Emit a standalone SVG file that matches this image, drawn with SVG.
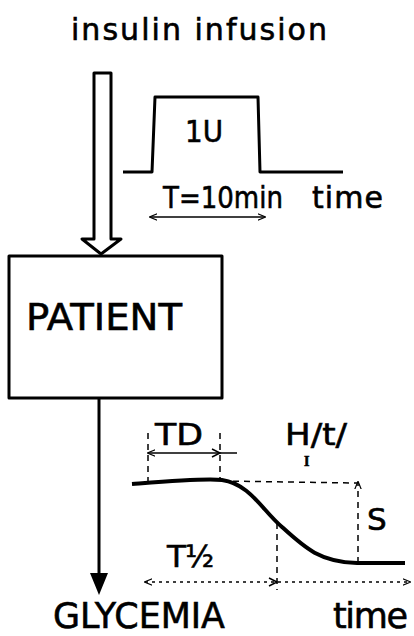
<svg xmlns="http://www.w3.org/2000/svg" width="414" height="636" viewBox="0 0 414 636">
<style>
text{font-family:"DejaVu Sans","Liberation Sans",Arial,sans-serif;fill:#000;stroke:#000;stroke-width:0.6}
.thick{fill:none;stroke:#000;stroke-width:3;stroke-linejoin:round}
.thin{fill:none;stroke:#000;stroke-width:1.5}
.dash{fill:none;stroke:#000;stroke-width:1.5;stroke-dasharray:6 5}
.dot{fill:none;stroke:#000;stroke-width:1.5;stroke-dasharray:3 4}
</style>
<defs>
<marker id="ah" viewBox="0 0 10 10" refX="9" refY="5" markerWidth="8" markerHeight="8" orient="auto-start-reverse" markerUnits="userSpaceOnUse">
<path d="M0,1 L10,5 L0,9" fill="none" stroke="#000" stroke-width="1.5"/>
</marker>
</defs>
<rect width="414" height="636" fill="#fff"/>
<g id="title"><text x="71" y="40" font-size="30" textLength="256" lengthAdjust="spacing">insulin infusion</text></g>
<g id="pulse">
<path class="thick" d="M123,172 H152 L155,97 H258 L260,172 H343"/>
<text x="185" y="142" font-size="30" textLength="38" lengthAdjust="spacingAndGlyphs">1U</text>
<text x="163" y="208" font-size="31" textLength="120" lengthAdjust="spacingAndGlyphs">T=10min</text>
<text x="312" y="208" font-size="30" textLength="71" lengthAdjust="spacing">time</text>
<line class="thin" x1="150" y1="217" x2="265" y2="217" marker-start="url(#ah)" marker-end="url(#ah)"/>
</g>
<g id="patient">
<rect class="thick" x="9" y="256" width="213" height="142"/>
<text x="26" y="330" font-size="37" textLength="156" lengthAdjust="spacingAndGlyphs">PATIENT</text>
</g>
<g id="connectors">
<path class="thick" d="M94,73 H111 V239 H121 L101,254 L82,239 H94 Z" fill="#fff"/>
<line x1="99" y1="398" x2="99" y2="576" stroke="#000" stroke-width="3"/>
<path d="M90,573 L108,573 L99,595 Z" fill="#000"/>
</g>
<g id="glycemia"><text x="53" y="628" font-size="35" textLength="172" lengthAdjust="spacingAndGlyphs">GLYCEMIA</text></g>
<g id="response">
<text x="333" y="628" font-size="35" textLength="75" lengthAdjust="spacing">time</text>
<text x="155" y="445" font-size="31" textLength="48" lengthAdjust="spacingAndGlyphs">TD</text>
<text x="285" y="445" font-size="31" textLength="62" lengthAdjust="spacingAndGlyphs">H/t/</text>
<text x="304" y="466" font-size="14" font-weight="bold" style="font-family:'Liberation Serif',serif">I</text>
<text x="367" y="530" font-size="31">S</text>
<text x="167" y="567" font-size="31">T<tspan font-size="30" dx="-1">½</tspan></text>
<line class="dash" x1="148" y1="433" x2="148" y2="482"/>
<line class="dash" x1="220" y1="433" x2="220" y2="480"/>
<line class="thin" x1="148" y1="453" x2="237" y2="453" marker-start="url(#ah)"/>
<path class="thin" d="M212,449 L220,453 L212,457"/>
<path d="M132,484 C170,481 205,478 222,480 C250,484 262,510 282,527 C305,548 320,562 357,563 H405" fill="none" stroke="#000" stroke-width="4"/>
<line class="dash" x1="222" y1="481" x2="357" y2="483" stroke-dasharray="10 6 2 6"/>
<line class="dash" x1="358" y1="563" x2="358" y2="482" marker-end="url(#ah)"/>
<line class="dash" x1="277" y1="523" x2="277" y2="590"/>
<line class="dot" x1="145" y1="582" x2="410" y2="582" marker-start="url(#ah)" marker-end="url(#ah)"/>
<path class="thin" d="M269,578 L277,582 L269,586"/>
</g>
</svg>
